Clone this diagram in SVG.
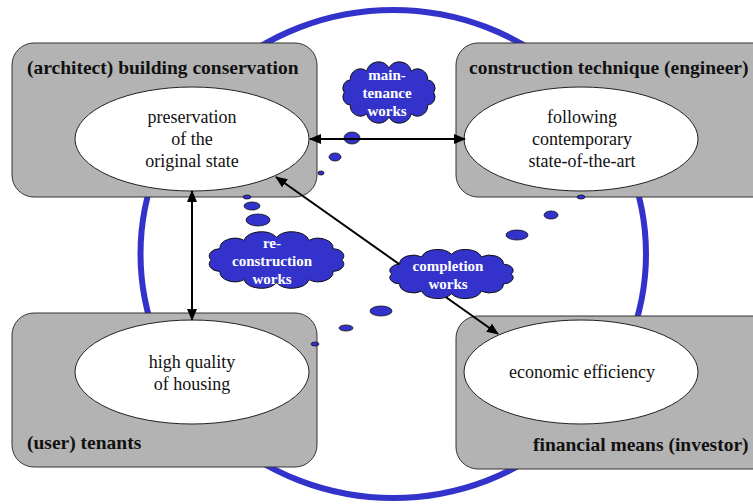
<svg xmlns="http://www.w3.org/2000/svg" xmlns:xlink="http://www.w3.org/1999/xlink" width="753" height="504" viewBox="0 0 753 504">
<style>
.box{fill:#b3b3b3;stroke:#333;stroke-width:1}
.ell{fill:#fff;stroke:#222;stroke-width:1}
.title{font-family:"Liberation Serif","Times New Roman",serif;font-weight:bold;font-size:19.5px;fill:#111}
.lbl{font-family:"Liberation Serif","Times New Roman",serif;font-size:18px;fill:#111;text-anchor:middle}
.ct{font-family:"Liberation Serif","Times New Roman",serif;font-weight:bold;font-size:15px;fill:#fff;text-anchor:middle}
.bub{fill:#3333cc;stroke:#111;stroke-width:0.8}
.cloud{fill:#3333cc;stroke:#111;stroke-width:1;vector-effect:non-scaling-stroke}
.arr{stroke:#000;stroke-width:2;fill:none}
</style>
<defs>
<marker id="ah" viewBox="0 0 12 10" refX="11" refY="5" markerWidth="12" markerHeight="10" markerUnits="userSpaceOnUse" orient="auto-start-reverse">
<path d="M0,0 L12,5 L0,10 Z" fill="#000"/>
</marker>
<path id="cl" class="cloud" d="M8,30 A7,7 0 0 1 13.6,19 A9.6,9.6 0 0 1 29,10.9 A11.7,11.7 0 0 1 50,8 A11.7,11.7 0 0 1 71,10.9 A9.6,9.6 0 0 1 86.4,19 A7,7 0 0 1 92,30 A7,7 0 0 1 86.4,41 A9.6,9.6 0 0 1 71,49.1 A11.7,11.7 0 0 1 50,52 A11.7,11.7 0 0 1 29,49.1 A9.6,9.6 0 0 1 13.6,41 A7,7 0 0 1 8,30 Z"/>
</defs>

<ellipse cx="393.25" cy="254" rx="252.75" ry="244" fill="none" stroke="#3333cc" stroke-width="6"/>

<g id="node-architect">
<rect class="box" x="12" y="43" width="305" height="154" rx="22"/>
<text class="title" x="27" y="74">(architect) building conservation</text>
<ellipse class="ell" cx="192" cy="139" rx="117" ry="52"/>
<text class="lbl" x="192" y="123">preservation</text>
<text class="lbl" x="192" y="145">of the</text>
<text class="lbl" x="192" y="167">original state</text>
</g>

<g id="node-engineer">
<rect class="box" x="456" y="43" width="320" height="154" rx="22"/>
<text class="title" x="469" y="74">construction technique (engineer)</text>
<ellipse class="ell" cx="581" cy="139" rx="117" ry="52"/>
<text class="lbl" x="582" y="123">following</text>
<text class="lbl" x="582" y="145">contemporary</text>
<text class="lbl" x="582" y="167">state-of-the-art</text>
</g>

<g id="node-tenants">
<rect class="box" x="12" y="313" width="305" height="154" rx="22"/>
<ellipse class="ell" cx="192" cy="372" rx="117" ry="52"/>
<text class="lbl" x="192" y="368">high quality</text>
<text class="lbl" x="192" y="390">of housing</text>
<text class="title" x="27" y="449">(user) tenants</text>
</g>

<g id="node-investor">
<rect class="box" x="456" y="316" width="320" height="153" rx="22"/>
<ellipse class="ell" cx="581" cy="372" rx="117" ry="52"/>
<text class="lbl" x="582" y="378">economic efficiency</text>
<text class="title" x="533" y="451">financial means (investor)</text>
</g>

<g id="bubbles">
<ellipse class="bub" cx="352" cy="138" rx="8" ry="6"/>
<ellipse class="bub" cx="335" cy="157" rx="6" ry="4"/>
<ellipse class="bub" cx="321" cy="173" rx="3" ry="2"/>
<ellipse class="bub" cx="247" cy="197" rx="4" ry="2"/>
<ellipse class="bub" cx="252" cy="206" rx="8" ry="4"/>
<ellipse class="bub" cx="258" cy="220" rx="12" ry="6"/>
<ellipse class="bub" cx="581" cy="197" rx="4" ry="2"/>
<ellipse class="bub" cx="551" cy="215" rx="7" ry="4"/>
<ellipse class="bub" cx="517" cy="235" rx="11" ry="5"/>
<ellipse class="bub" cx="381" cy="311" rx="11" ry="5"/>
<ellipse class="bub" cx="346" cy="328" rx="7" ry="3"/>
<ellipse class="bub" cx="315" cy="344" rx="4" ry="2"/>
</g>

<g id="connectors">
<line class="arr" x1="310" y1="139" x2="465" y2="139" marker-start="url(#ah)" marker-end="url(#ah)"/>
<line class="arr" x1="192" y1="191" x2="192" y2="320" marker-start="url(#ah)" marker-end="url(#ah)"/>
<line class="arr" stroke-width="1.5" x1="276" y1="177" x2="498" y2="334" marker-start="url(#ah)" marker-end="url(#ah)"/>
</g>

<g id="cloud-maintenance">
<use xlink:href="#cl" transform="translate(335.7,58.9) scale(1.065,1.12)"/>
<text class="ct" x="387" y="80">main-</text>
<text class="ct" x="387" y="98">tenance</text>
<text class="ct" x="387" y="116">works</text>
</g>

<g id="cloud-reconstruction">
<use xlink:href="#cl" transform="translate(198.8,229) scale(1.554,1.034)"/>
<text class="ct" x="272" y="248">re-</text>
<text class="ct" x="272" y="266">construction</text>
<text class="ct" x="272" y="284">works</text>
</g>

<g id="cloud-completion">
<use xlink:href="#cl" transform="translate(380.3,247.1) scale(1.424,0.897)"/>
<text class="ct" x="448" y="271">completion</text>
<text class="ct" x="448" y="289">works</text>
</g>
</svg>
